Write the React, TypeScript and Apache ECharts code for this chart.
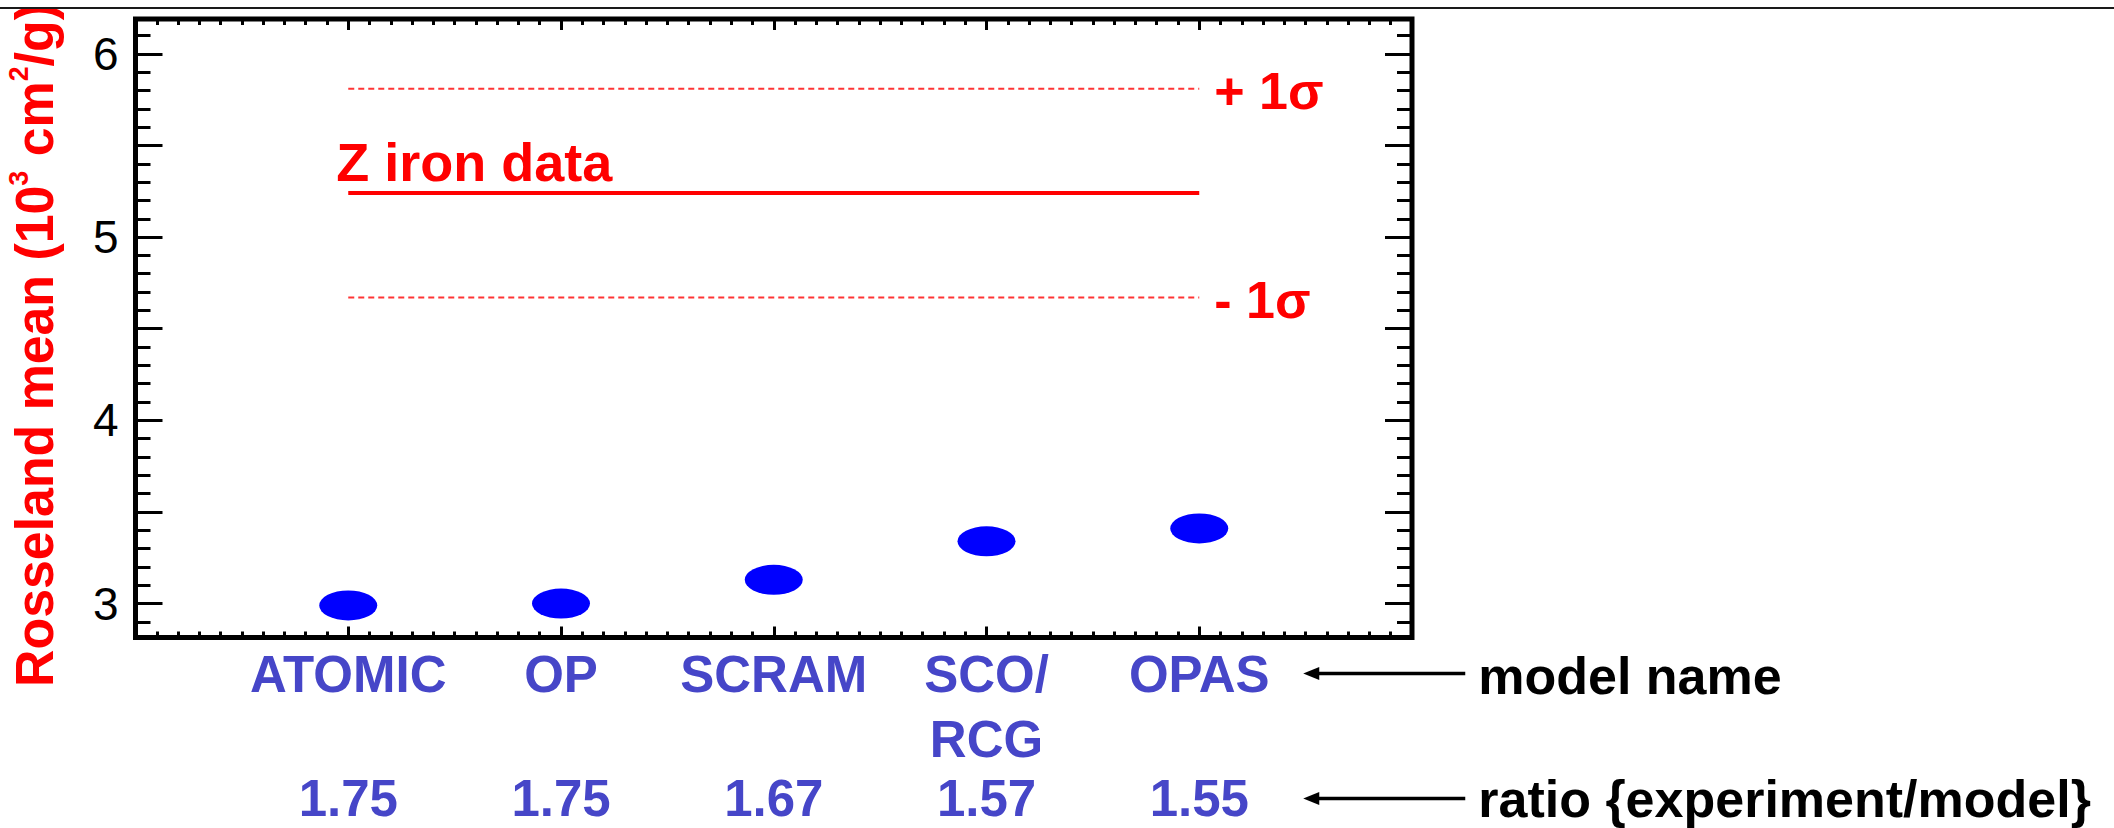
import { useEffect, useRef } from 'react';
import * as echarts from 'echarts';

// Model names (a "\n" splits a name over two lines) and the ratio shown under each
const modelNames = ['ATOMIC', 'OP', 'SCRAM', 'SCO/\nRCG', 'OPAS'];
const ratioLabels = ['1.75', '1.75', '1.67', '1.57', '1.55'];
// Model Rosseland means, 10^3 cm^2/g
const rosselandMeans = [2.99, 3.0, 3.13, 3.34, 3.41];
// Z iron measurement and its one-sigma band
const zIronMean = 5.24;
const zIronPlusSigma = 5.81;
const zIronMinusSigma = 4.67;
// Axis extents
const yRange = [2.815, 6.19];
const xRange = [0, 6];

const FONT = '"Liberation Sans", Arial, Helvetica, sans-serif';
const RED = '#ff0000';
const LABEL_BLUE = '#4646c8';
const DOT_BLUE = '#0000ff';

const ELLIPSE = 'path://M0 15 A29 15 0 1 0 58 15 A29 15 0 1 0 0 15 Z';

const isWhole = (v: number) => Math.abs(v - Math.round(v)) < 1e-6;
const modelIndex = (v: number) => {
  const i = Math.round(v) - 1;
  return isWhole(v) && i >= 0 && i < modelNames.length ? i : -1;
};

export default function App() {
  const ref = useRef<HTMLDivElement>(null);

  useEffect(() => {
    const chart = echarts.init(ref.current!, null, { renderer: 'svg' });
    const positions = modelNames.map((_, i) => i + 1);
    const first = positions[0];
    const last = positions[positions.length - 1];

    const tickStyle = { color: '#000', width: 3 };
    const noLabel = { show: false };
    const hiddenLine = { show: false, onZero: false };

    // x axes: major ticks at every model, a second set of axes carries the 0.1 minor ticks
    const xAxisBase = (interval: number, tickLen: number, position: string) => ({
      type: 'value',
      position,
      min: xRange[0],
      max: xRange[1],
      interval,
      axisLine: hiddenLine,
      splitLine: { show: false },
      axisTick: { show: true, inside: true, length: tickLen, lineStyle: tickStyle },
      axisLabel: noLabel,
    });
    // y axes: 0.5 major ticks, and 0.1 ticks from a finer companion axis
    const yAxisBase = (splitNumber: number, tickLen: number, position: string) => ({
      type: 'value',
      position,
      min: yRange[0],
      max: yRange[1],
      splitNumber,
      axisLine: hiddenLine,
      splitLine: { show: false },
      axisTick: { show: true, inside: true, length: tickLen, lineStyle: tickStyle },
      axisLabel: noLabel,
    });

    const bandLine = (value: number, dashed: boolean) => ({
      type: 'line',
      data: [
        [first, value],
        [last, value],
      ],
      symbol: 'none',
      silent: true,
      lineStyle: dashed
        ? { color: '#ff3535', width: 2, type: [6, 4] }
        : { color: RED, width: 4 },
    });

    chart.setOption({
      animation: false,
      backgroundColor: '#ffffff',
      grid: {
        left: 135.5,
        right: 702,
        top: 19,
        bottom: 190.5,
        show: true,
        borderColor: '#000',
        borderWidth: 5,
        backgroundColor: 'transparent',
        containLabel: false,
        outerBoundsMode: 'none',
      },
      xAxis: [
        {
          ...xAxisBase(1, 11, 'bottom'),
          axisLabel: {
            show: true,
            color: LABEL_BLUE,
            fontSize: 51,
            fontWeight: 'bold',
            fontFamily: FONT,
            lineHeight: 64.5,
            margin: 5,
            formatter: (v: number) => {
              const i = modelIndex(v);
              return i < 0 ? '' : modelNames[i];
            },
          },
        },
        xAxisBase(1, 11, 'top'),
        xAxisBase(0.1, 6, 'bottom'),
        xAxisBase(0.1, 6, 'top'),
        {
          // ratio row under the model names
          ...xAxisBase(1, 0, 'bottom'),
          axisTick: { show: false },
          axisLabel: {
            show: true,
            color: LABEL_BLUE,
            fontSize: 51,
            fontWeight: 'bold',
            fontFamily: FONT,
            lineHeight: 44,
            margin: 139,
            formatter: (v: number) => {
              const i = modelIndex(v);
              return i < 0 ? '' : ratioLabels[i];
            },
          },
        },
      ],
      yAxis: [
        {
          ...yAxisBase(7, 27, 'left'),
          axisLabel: {
            show: true,
            color: '#000',
            fontSize: 46,
            fontFamily: FONT,
            margin: 17,
            padding: [16, 0, 0, 0],
            formatter: (v: number) => (isWhole(v) ? String(Math.round(v)) : ''),
          },
        },
        yAxisBase(7, 27, 'right'),
        yAxisBase(34, 15, 'left'),
        yAxisBase(34, 15, 'right'),
      ],
      series: [
        bandLine(zIronPlusSigma, true),
        bandLine(zIronMean, false),
        bandLine(zIronMinusSigma, true),
        {
          type: 'scatter',
          data: rosselandMeans.map((v, i) => [positions[i], v]),
          symbol: ELLIPSE,
          symbolSize: [58, 30],
          symbolKeepAspect: false,
          itemStyle: { color: DOT_BLUE, opacity: 1 },
          z: 5,
        },
      ],
    });

    // Annotations anchored to the data coordinates
    const px = (x: number, y: number) => chart.convertToPixel({ gridIndex: 0 }, [x, y]) as number[];
    const [xStart, yMean] = px(first, zIronMean);
    const [xEnd, yPlus] = px(last, zIronPlusSigma);
    const yMinus = px(last, zIronMinusSigma)[1];
    const yBottom = px(last, yRange[0])[1];
    const modelRowY = yBottom + 36;
    const ratioRowY = yBottom + 161;
    const arrowTip = xEnd + 104;
    const arrowTail = xEnd + 266;
    const noteX = xEnd + 279;

    const redText = (text: string, x: number, y: number, size: number) => ({
      type: 'text',
      z: 100,
      x,
      y,
      style: {
        text,
        fill: RED,
        fontSize: size,
        fontWeight: 'bold',
        fontFamily: FONT,
        align: 'left',
        verticalAlign: 'middle',
      },
    });
    const arrow = (y: number) => [
      {
        type: 'line',
        z: 100,
        shape: { x1: arrowTip + 10, y1: y, x2: arrowTail, y2: y },
        style: { stroke: '#000', lineWidth: 3.5 },
      },
      {
        type: 'polygon',
        z: 100,
        shape: {
          points: [
            [arrowTip, y],
            [arrowTip + 16, y - 6.5],
            [arrowTip + 16, y + 6.5],
          ],
        },
        style: { fill: '#000' },
      },
    ];
    const note = (text: string, y: number) => ({
      type: 'text',
      z: 100,
      x: noteX,
      y,
      style: {
        text,
        fill: '#000',
        fontSize: 52,
        fontWeight: 'bold',
        fontFamily: FONT,
        align: 'left',
        verticalAlign: 'middle',
      },
    });

    chart.setOption({
      graphic: [
        {
          // y axis title, reading bottom to top
          type: 'text',
          z: 50,
          x: 34,
          y: 345,
          rotation: Math.PI / 2,
          scaleX: 0.96,
          style: {
            text: 'Rosseland mean (10{sup|3} cm{sup|2}/g)',
            fill: RED,
            fontSize: 54,
            fontWeight: 'bold',
            fontFamily: FONT,
            lineHeight: 60,
            align: 'center',
            verticalAlign: 'middle',
            rich: {
              sup: {
                fill: RED,
                fontSize: 28,
                fontWeight: 'bold',
                fontFamily: FONT,
                verticalAlign: 'top',
              },
            },
          },
        },
        { type: 'rect', z: 100, shape: { x: 0, y: 0, width: 2114, height: 7 }, style: { fill: '#fff' } },
        { type: 'line', z: 101, shape: { x1: 0, y1: 8, x2: 2114, y2: 8 }, style: { stroke: '#1a1a1a', lineWidth: 2 } },
        redText('Z iron data', xStart - 12, yMean - 31, 54),
        redText('+ 1σ', xEnd + 15, yPlus + 2, 52),
        redText('- 1σ', xEnd + 15, yMinus + 2, 52),
        ...arrow(modelRowY),
        ...arrow(ratioRowY),
        note('model name', modelRowY + 2),
        note('ratio {experiment/model}', ratioRowY),
      ],
    });

    return () => chart.dispose();
  }, []);

  return (
    <div
      ref={ref}
      style={{ position: 'absolute', left: 0, top: 0, width: 2114, height: 828, background: '#fff' }}
    />
  );
}
